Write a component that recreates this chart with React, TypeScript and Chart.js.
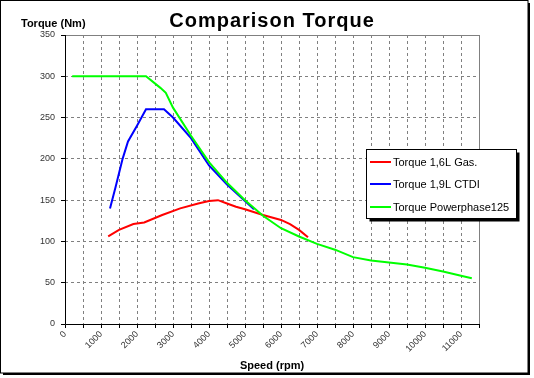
import React, { useEffect, useRef } from "react";
import { Chart, registerables } from "chart.js";

Chart.register(...registerables);

const chartTitle = "Comparison Torque";
const yTitle = "Torque (Nm)";
const xTitle = "Speed (rpm)";

const seriesNames = ["Torque 1,6L Gas.", "Torque 1,9L CTDI", "Torque Powerphase125"];
const seriesColors = ["#ff0000", "#0000ff", "#00ff00"];

const redRpm = [1200, 1500, 1900, 2200, 2700, 3200, 3700, 4000, 4250, 4500, 4750, 5000, 5500, 6000, 6250, 6500, 6750];
const redNm = [106, 114, 121, 123, 132, 140, 146, 149, 150, 146, 142, 139, 132, 126, 121, 114, 105];

const blueRpm = [1250, 1400, 1600, 1750, 2000, 2250, 2750, 3000, 3500, 4000, 4500, 5000, 5250];
const blueNm = [140, 165, 200, 221, 240, 260, 260, 250, 225, 192, 169, 149, 139];

const greenRpm = [200, 2250, 2650, 2800, 3000, 3500, 4000, 4500, 5000, 5500, 6000, 6500, 7000, 7500, 8000, 8500, 9000, 9500, 10000, 10500, 11000, 11300];
const greenNm = [300, 300, 286, 280, 262, 228, 196, 171, 150, 131, 116, 106, 97, 90, 81, 77, 74.5, 72, 68, 63.5, 58.5, 55.5];

const xMin = 0;
const xMax = 11500;
const xStep = 500;
const xLabelEvery = 1000;
const yMin = 0;
const yMax = 350;
const yStep = 50;

const FONT = "'Liberation Sans', Arial, sans-serif";

const pts = (xs: number[], ys: number[]) => xs.map((x, i) => ({ x, y: ys[i] }));

const decorPlugin = {
  id: "decor",
  beforeDraw(chart: any) {
    const { ctx, width, height } = chart;
    ctx.save();
    ctx.fillStyle = "#ffffff";
    ctx.fillRect(0, 0, width, height);
    ctx.restore();
  },
  afterDraw(chart: any) {
    const { ctx, chartArea } = chart;
    const { left, right, top, bottom } = chartArea;
    ctx.save();
    // plot border (top/right gray)
    ctx.strokeStyle = "#808080";
    ctx.lineWidth = 1;
    ctx.setLineDash([]);
    ctx.beginPath();
    ctx.moveTo(left, top + 0.5);
    ctx.lineTo(Math.round(right) + 0.5, top + 0.5);
    ctx.lineTo(Math.round(right) + 0.5, bottom);
    ctx.stroke();
    // axes black
    ctx.strokeStyle = "#000000";
    ctx.beginPath();
    ctx.moveTo(Math.round(left) + 0.5, top);
    ctx.lineTo(Math.round(left) + 0.5, Math.round(bottom) + 0.5);
    ctx.lineTo(Math.round(right) + 1, Math.round(bottom) + 0.5);
    ctx.stroke();

    // title
    ctx.fillStyle = "#000";
    ctx.font = `bold 20px ${FONT}`;
    (ctx as any).letterSpacing = "1px";
    ctx.textAlign = "center";
    ctx.textBaseline = "alphabetic";
    ctx.fillText(chartTitle, 272, 27);
    (ctx as any).letterSpacing = "0px";

    // axis titles
    ctx.font = `bold 11px ${FONT}`;
    ctx.textAlign = "left";
    ctx.fillText(yTitle, 21, 27);
    ctx.textAlign = "center";
    ctx.fillText(xTitle, 272, 369);

    // legend
    const lx = 366.5, ly = 149.5, lw = 150, lh = 69;
    ctx.fillStyle = "#000";
    ctx.fillRect(lx + 3, ly + 3, lw, lh);
    ctx.fillStyle = "#fff";
    ctx.fillRect(lx, ly, lw, lh);
    ctx.strokeStyle = "#000";
    ctx.lineWidth = 1;
    ctx.strokeRect(lx, ly, lw, lh);
    const rows = [162, 184, 207];
    ctx.font = `11px ${FONT}`;
    ctx.textAlign = "left";
    ctx.textBaseline = "middle";
    seriesNames.forEach((name, i) => {
      ctx.strokeStyle = seriesColors[i];
      ctx.lineWidth = 2;
      ctx.beginPath();
      ctx.moveTo(370, rows[i]);
      ctx.lineTo(391, rows[i]);
      ctx.stroke();
      ctx.fillStyle = "#000";
      ctx.fillText(name, 393, rows[i] + 1);
    });

    // outer frame
    ctx.fillStyle = "#000";
    ctx.fillRect(528, 3, 2, 372);
    ctx.fillRect(3, 373, 527, 2);
    ctx.strokeStyle = "#000";
    ctx.lineWidth = 1;
    ctx.strokeRect(0.5, 0.5, 527.5, 372.5);
    ctx.restore();
  },
};

export default function App() {
  const ref = useRef<HTMLCanvasElement | null>(null);

  useEffect(() => {
    document.body.style.margin = "0";
    const canvas = ref.current;
    if (!canvas) return;
    const chart = new Chart(canvas, {
      type: "line",
      data: {
        datasets: [
          { label: seriesNames[0], data: pts(redRpm, redNm), borderColor: seriesColors[0], order: 2 },
          { label: seriesNames[1], data: pts(blueRpm, blueNm), borderColor: seriesColors[1], order: 1 },
          { label: seriesNames[2], data: pts(greenRpm, greenNm), borderColor: seriesColors[2], order: 0 },
        ].map((d) => ({
          ...d,
          borderWidth: 2,
          pointRadius: 0,
          tension: 0,
          fill: false,
          backgroundColor: d.borderColor,
        })),
      },
      options: {
        animation: false,
        responsive: false,
        devicePixelRatio: 1,
        layout: { padding: { top: 35, right: 55, left: 0, bottom: 0 } },
        plugins: {
          legend: { display: false },
          title: { display: false },
          tooltip: { enabled: false },
        },
        scales: {
          x: {
            type: "linear",
            min: xMin,
            max: xMax,
            afterFit: (s: any) => {
              s.height = 54;
            },
            ticks: {
              stepSize: xStep,
              autoSkip: false,
              maxRotation: 45,
              minRotation: 45,
              padding: 1,
              color: "#333",
              font: { family: FONT, size: 9 },
              callback: (v: any) => (Number(v) % xLabelEvery === 0 ? String(v) : ""),
            },
            grid: {
              color: "#808080",
              lineWidth: 1,
              tickLength: 4,
              tickColor: "#000",
            },
            border: { display: false, dash: [3, 3] },
          },
          y: {
            type: "linear",
            min: yMin,
            max: yMax,
            afterFit: (s: any) => {
              s.width = 65;
            },
            ticks: {
              stepSize: yStep,
              padding: 6,
              color: "#333",
              font: { family: FONT, size: 9 },
            },
            grid: {
              color: "#808080",
              lineWidth: 1,
              tickLength: 4,
              tickColor: "#000",
            },
            border: { display: false, dash: [3, 3] },
          },
        },
      },
      plugins: [decorPlugin],
    } as any);
    return () => chart.destroy();
  }, []);

  return (
    <div style={{ width: 534, height: 378 }}>
      <canvas ref={ref} width={534} height={378} style={{ display: "block" }} />
    </div>
  );
}
